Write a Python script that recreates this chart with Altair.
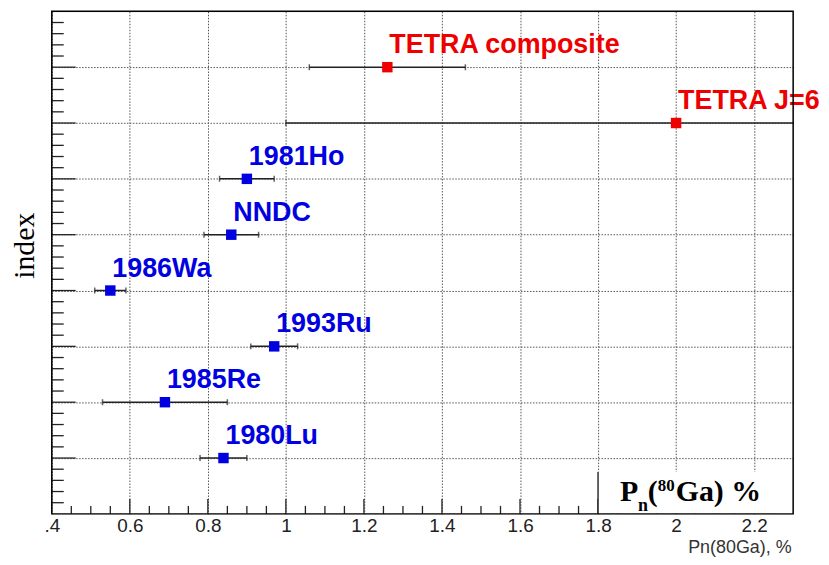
import altair as alt
import pandas as pd

# ---- data ----
labels = ["1980Lu", "1985Re", "1993Ru", "1986Wa", "NNDC", "1981Ho", "TETRA J=6", "TETRA composite"]
index_vals = [1, 2, 3, 4, 5, 6, 7, 8]
pn_values = [0.84, 0.69, 0.97, 0.55, 0.86, 0.90, 2.00, 1.26]
pn_errors = [0.06, 0.16, 0.06, 0.04, 0.07, 0.07, 1.00, 0.20]
groups = ["lit", "lit", "lit", "lit", "lit", "lit", "TETRA", "TETRA"]

x_major = [0.4, 0.6, 0.8, 1.0, 1.2, 1.4, 1.6, 1.8, 2.0, 2.2]
y_major = [1, 2, 3, 4, 5, 6, 7, 8]
x_minor = [round(0.4 + 0.05 * i, 2) for i in range(1, 38) if i % 4 != 0]
y_minor = [round(0.2 * i, 1) for i in range(1, 45) if i % 5 != 0]

W, H = 745, 505
XDOM = [0.4, 2.3]
YDOM = [0, 9]

df = pd.DataFrame({
    "label": labels,
    "idx": index_vals,
    "pn": pn_values,
    "err": pn_errors,
    "grp": groups,
})
df["lo"] = df["pn"] - df["err"]
df["hi"] = df["pn"] + df["err"]

xs = alt.Scale(domain=XDOM, nice=False, zero=False)
ys = alt.Scale(domain=YDOM, nice=False, zero=False)

mark_colors = alt.Scale(domain=["lit", "TETRA"], range=["#0000e0", "#ee0000"])
text_colors = alt.Scale(domain=["lit", "TETRA"], range=["#1c1cb8", "#dd0010"])

x_axis = alt.Axis(
    values=x_major, grid=True, gridDash=[1.5, 1.5], gridColor="#555555", gridWidth=1,
    ticks=False, domain=False, labelFont="Liberation Sans", labelFontSize=19,
    labelColor="#222222", labelPadding=3, labelFlush=False,
    labelExpr="datum.value < 0.5 ? '.4' : format(datum.value, '~g')",
    title="Pn(80Ga), %", titleFont="Liberation Sans", titleFontSize=18,
    titleFontWeight="normal", titleColor="#333333", titleX=W - 2, titleY=34,
    titleAlign="right", titleBaseline="middle",
)
y_axis = alt.Axis(
    values=y_major, grid=True, gridDash=[1.5, 1.5], gridColor="#555555", gridWidth=1,
    ticks=False, domain=False, labels=False,
    title="index", titleFont="Liberation Serif", titleFontSize=30,
    titleFontWeight="normal", titleColor="#000000", titleX=-27, titleY=235,
    titleAlign="center", titleBaseline="middle",
)


def X(field):
    return alt.X(field, scale=xs, axis=x_axis)


def Y(field):
    return alt.Y(field, scale=ys, axis=y_axis)


base = alt.Chart(df)

err_rules = base.mark_rule(color="#222222", strokeWidth=1.5, clip=True).encode(
    x=X("lo:Q"), x2="hi:Q", y=Y("idx:Q"),
)
cap_lo = base.mark_tick(color="#222222", thickness=1.5, size=6, orient="vertical", clip=True).encode(
    x=X("lo:Q"), y=Y("idx:Q"))
cap_hi = base.mark_tick(color="#222222", thickness=1.5, size=6, orient="vertical", clip=True).encode(
    x=X("hi:Q"), y=Y("idx:Q"))

points = base.mark_square(size=110, opacity=1).encode(
    x=X("pn:Q"), y=Y("idx:Q"),
    color=alt.Color("grp:N", scale=mark_colors, legend=None),
)
texts = base.mark_text(
    align="left", baseline="alphabetic", dx=2, dy=-14,
    font="Liberation Sans", fontSize=27, fontWeight="bold",
).encode(
    x=X("pn:Q"), y=Y("idx:Q"),
    text="label:N",
    color=alt.Color("grp:N", scale=text_colors, legend=None),
)

# inward ticks (ROOT style)
xmaj_df = pd.DataFrame({"v": x_major[1:]})
xmin_df = pd.DataFrame({"v": x_minor})
ymaj_df = pd.DataFrame({"v": y_major})
ymin_df = pd.DataFrame({"v": y_minor})

xmaj_ticks = alt.Chart(xmaj_df).mark_rule(color="#222222", strokeWidth=1.3).encode(
    x=X("v:Q"), y=alt.value(H), y2=alt.value(H - 15))
xmin_ticks = alt.Chart(xmin_df).mark_rule(color="#222222", strokeWidth=1.3).encode(
    x=X("v:Q"), y=alt.value(H), y2=alt.value(H - 8))
ymaj_ticks = alt.Chart(ymaj_df).mark_rule(color="#222222", strokeWidth=1.3).encode(
    y=Y("v:Q"), x=alt.value(0), x2=alt.value(24))
ymin_ticks = alt.Chart(ymin_df).mark_rule(color="#222222", strokeWidth=1.3).encode(
    y=Y("v:Q"), x=alt.value(0), x2=alt.value(12))

# pave in the lower right
box_df = pd.DataFrame({"x1": [1.8], "x2": [2.3], "y1": [0.0], "y2": [0.75]})
box = alt.Chart(box_df).mark_rect(fill="white", strokeWidth=0).encode(
    x=X("x1:Q"), x2="x2:Q", y=Y("y1:Q"), y2="y2:Q")
box_edge = alt.Chart(box_df).mark_rule(color="#111111", strokeWidth=1.3).encode(
    x=X("x1:Q"), y=Y("y1:Q"), y2="y2:Q")

one = pd.DataFrame({"k": [0]})
big = dict(font="Liberation Serif", fontWeight="bold", align="left", baseline="alphabetic", color="black")
pieces = [
    ("P", 571, 492, 30),
    ("n", 589, 502, 18),
    ("(", 599, 492, 30),
    ("80", 609, 482, 17),
    ("Ga) %", 627, 492, 30),
]
piece_layers = [
    alt.Chart(one).mark_text(fontSize=fs, text=t, **big).encode(x=alt.value(px), y=alt.value(py))
    for t, px, py, fs in pieces
]

frame = alt.Chart(one).mark_rect(fillOpacity=0, stroke="black", strokeWidth=1.5).encode(
    x=alt.value(0), x2=alt.value(W), y=alt.value(0), y2=alt.value(H))

chart = alt.layer(
    err_rules, cap_lo, cap_hi, points, texts,
    xmaj_ticks, xmin_ticks, ymaj_ticks, ymin_ticks,
    box, box_edge, *piece_layers, frame,
).properties(
    width=W, height=H,
    autosize=alt.AutoSizeParams(type="none"),
    padding={"left": 44, "top": 2, "right": 28, "bottom": 46},
).configure_view(strokeWidth=0, fill="white").configure(background="white")

chart.save("out.html", embed_options={"renderer": "svg", "actions": False})
